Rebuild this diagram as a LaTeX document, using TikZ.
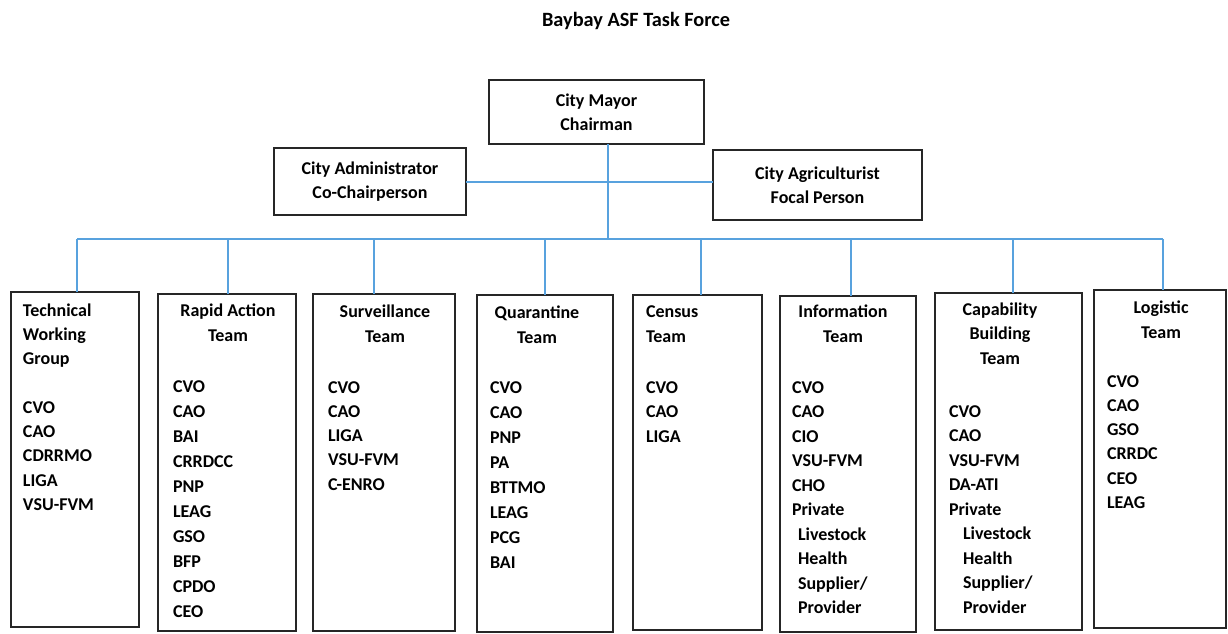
\documentclass[tikz,border=0pt]{standalone}
\usepackage{fontspec}
\setmainfont{Carlito}
\definecolor{linkblue}{RGB}{88,162,222}
\begin{document}
\begin{tikzpicture}[x=1pt,y=-1pt,
  box/.style={draw=black!85, line width=1.4pt, inner sep=0pt, outer sep=0pt, anchor=north west},
  topbox/.style={box, align=center, font=\fontsize{18}{24.5}\selectfont\bfseries},
  link/.style={draw=linkblue, line width=1.6pt},
  txt/.style={inner sep=0pt, outer sep=0pt, font=\fontsize{18}{24.5}\selectfont\bfseries},
  txtw/.style={inner sep=0pt, outer sep=0pt, font=\fontsize{18}{25}\selectfont\bfseries},
  txtn/.style={inner sep=0pt, outer sep=0pt, font=\fontsize{18}{24.3}\selectfont\bfseries},
  txtx/.style={inner sep=0pt, outer sep=0pt, font=\fontsize{18}{25.8}\selectfont\bfseries},
]
\useasboundingbox (0,0) rectangle (1228,633);

% title
\node[inner sep=0pt, font=\fontsize{20.3}{24}\selectfont\bfseries, anchor=base] (title) at (636,26) {Baybay ASF Task Force};

% top boxes
\node[topbox, minimum width=215pt, minimum height=64pt] (mayor) at (489,80) {City Mayor\\Chairman};
\node[topbox, minimum width=192pt, minimum height=67pt] (admin) at (274,148) {City Administrator\\Co-Chairperson};
\node[topbox, minimum width=209pt, minimum height=70pt] (agri) at (713,150) {City Agriculturist\\Focal Person};

% team boxes
\node[box, minimum width=128pt, minimum height=335pt] (tech) at (11,292) {};
\node[box, minimum width=138pt, minimum height=337pt] (rapid) at (158,294) {};
\node[box, minimum width=142pt, minimum height=337pt] (surv) at (313,294) {};
\node[box, minimum width=136pt, minimum height=337pt] (quar) at (477,295) {};
\node[box, minimum width=129pt, minimum height=335pt] (census) at (633,295) {};
\node[box, minimum width=136pt, minimum height=336pt] (info) at (780,296) {};
\node[box, minimum width=147pt, minimum height=337pt] (cap) at (935,293) {};
\node[box, minimum width=132pt, minimum height=338pt] (logi) at (1094,290) {};

% connectors
\coordinate (bus) at (608,239);
\coordinate (hl) at (608,182);
\coordinate (d1) at (77,239);
\coordinate (d2) at (228,239);
\coordinate (d3) at (374,239);
\coordinate (d4) at (545,239);
\coordinate (d5) at (701,239);
\coordinate (d6) at (851,239);
\coordinate (d7) at (1013,239);
\coordinate (d8) at (1163,239);
\draw[link] (mayor.south -| bus) -- (bus);
\draw[link] (admin.east |- hl) -- (agri.west |- hl);
\draw[link] (d1) -- (d8);
\draw[link] (d1) -- (d1 |- tech.north);
\draw[link] (d2) -- (d2 |- rapid.north);
\draw[link] (d3) -- (d3 |- surv.north);
\draw[link] (d4) -- (d4 |- quar.north);
\draw[link] (d5) -- (d5 |- census.north);
\draw[link] (d6) -- (d6 |- info.north);
\draw[link] (d7) -- (d7 |- cap.north);
\draw[link] (d8) -- (d8 |- logi.north);

% Technical Working Group
\node[txtn, anchor=base west] (techtxt) at (23,316) {\begin{tabular}[t]{@{}l@{}}Technical\\Working\\Group\\ \\CVO\\CAO\\CDRRMO\\LIGA\\VSU-FVM\end{tabular}};

% Rapid Action Team
\node[txtw, anchor=base] (rapidh) at (228,316) {\begin{tabular}[t]{@{}c@{}}Rapid Action\\Team\end{tabular}};
\node[txtw, anchor=base west] (rapidl) at (173,392) {\begin{tabular}[t]{@{}l@{}}CVO\\CAO\\BAI\\CRRDCC\\PNP\\LEAG\\GSO\\BFP\\CPDO\\CEO\end{tabular}};

% Surveillance Team
\node[txtx, anchor=base] (survh) at (385,317) {\begin{tabular}[t]{@{}c@{}}Surveillance\\Team\end{tabular}};
\node[txtn, anchor=base west] (survl) at (328,393) {\begin{tabular}[t]{@{}l@{}}CVO\\CAO\\LIGA\\VSU-FVM\\C-ENRO\end{tabular}};

% Quarantine Team
\node[txtw, anchor=base] (quarh) at (537,318) {\begin{tabular}[t]{@{}c@{}}Quarantine\\Team\end{tabular}};
\node[txtw, anchor=base west] (quarl) at (490,393) {\begin{tabular}[t]{@{}l@{}}CVO\\CAO\\PNP\\PA\\BTTMO\\LEAG\\PCG\\BAI\end{tabular}};

% Census Team
\node[txtx, anchor=base west] (censush) at (646,317) {\begin{tabular}[t]{@{}l@{}}Census\\Team\end{tabular}};
\node[txt, anchor=base west] (censusl) at (646,393) {\begin{tabular}[t]{@{}l@{}}CVO\\CAO\\LIGA\end{tabular}};

% Information Team
\node[txtx, anchor=base] (infoh) at (843,317) {\begin{tabular}[t]{@{}c@{}}Information\\Team\end{tabular}};
\node[txt, anchor=base west] (infol) at (792,393) {\begin{tabular}[t]{@{}l@{}}CVO\\CAO\\CIO\\VSU-FVM\\CHO\\Private\\\hspace{6pt}Livestock\\\hspace{6pt}Health\\\hspace{6pt}Supplier/\\\hspace{6pt}Provider\end{tabular}};

% Capability Building Team
\node[txt, anchor=base] (caph) at (1000,315) {\begin{tabular}[t]{@{}c@{}}Capability\\Building\\Team\end{tabular}};
\node[txt, anchor=base west] (capl) at (949,417) {\begin{tabular}[t]{@{}l@{}}CVO\\CAO\\VSU-FVM\\DA-ATI\\Private\\\hspace{14pt}Livestock\\\hspace{14pt}Health\\\hspace{14pt}Supplier/\\\hspace{14pt}Provider\end{tabular}};

% Logistic Team
\node[txtx, anchor=base] (logih) at (1161,313) {\begin{tabular}[t]{@{}c@{}}Logistic\\Team\end{tabular}};
\node[txtn, anchor=base west] (logil) at (1107,387) {\begin{tabular}[t]{@{}l@{}}CVO\\CAO\\GSO\\CRRDC\\CEO\\LEAG\end{tabular}};
\end{tikzpicture}
\end{document}
